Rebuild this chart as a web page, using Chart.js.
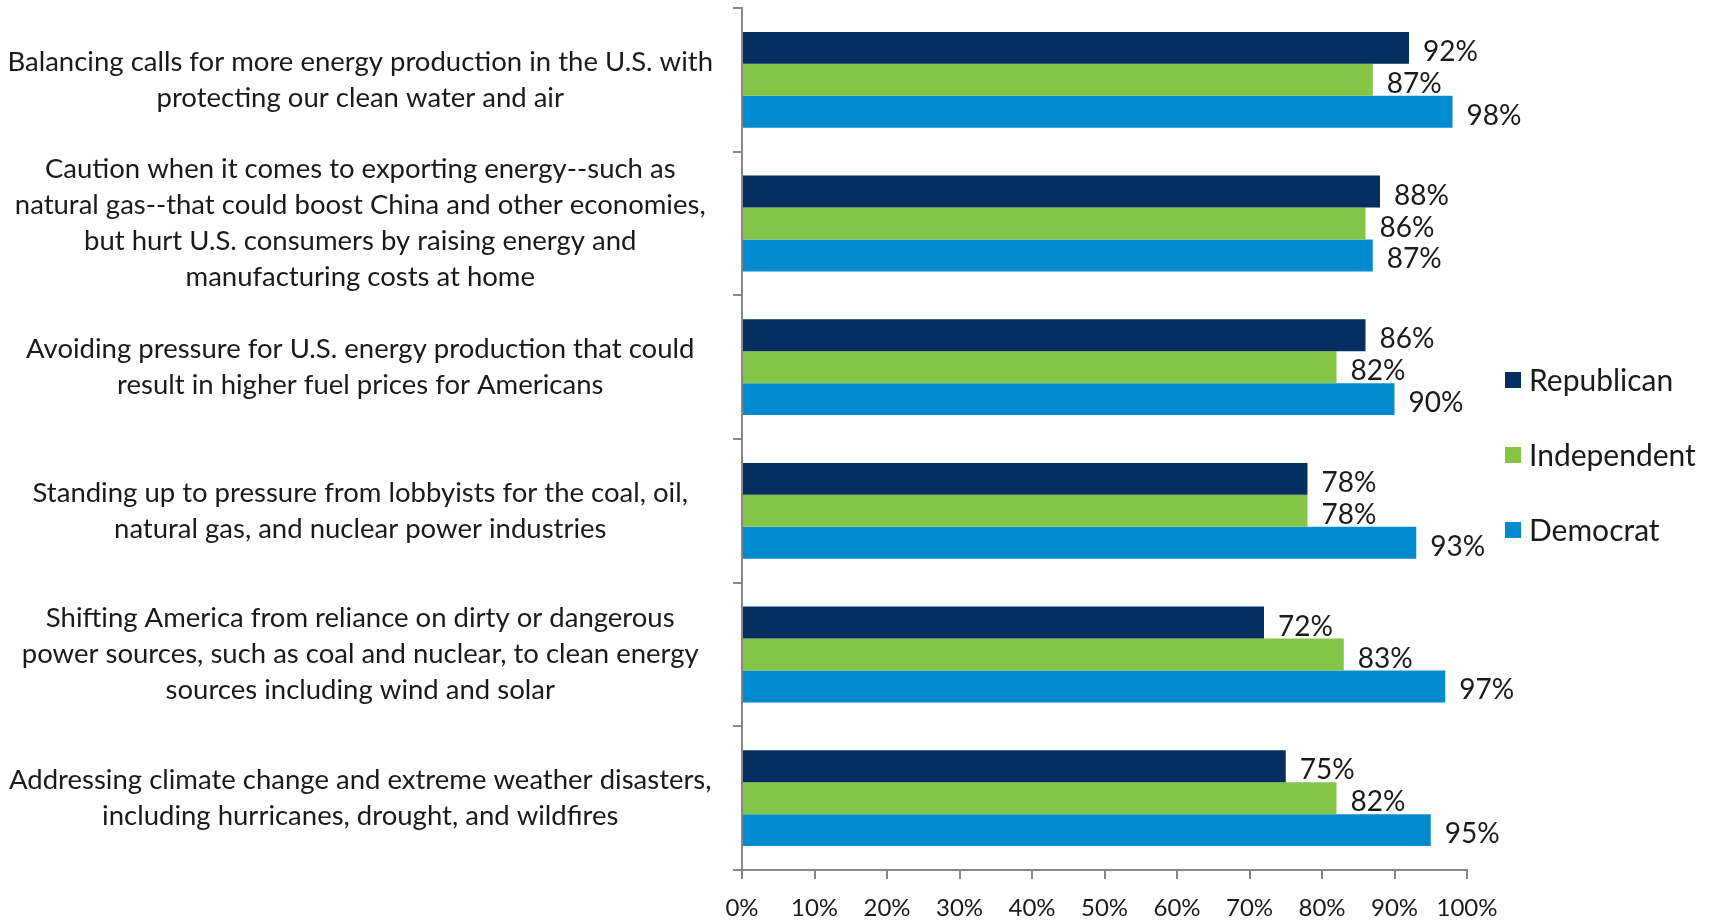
<!DOCTYPE html>
<html>
<head>
<meta charset="utf-8">
<script src="https://cdn.jsdelivr.net/npm/chart.js@4.4.1/dist/chart.umd.min.js"></script>
<style>
  html, body { margin: 0; padding: 0; background: #fff; }
  #wrap { width: 1709px; height: 922px; }
</style>
</head>
<body>
<div id="wrap"><canvas id="energy-priorities-chart"></canvas></div>
<script>
const categories = [
  ['Balancing calls for more energy production in the U.S. with', 'protecting our clean water and air'],
  ['Caution when it comes to exporting energy--such as', 'natural gas--that could boost China and other economies,', 'but hurt U.S. consumers by raising energy and', 'manufacturing costs at home'],
  ['Avoiding pressure for U.S. energy production that could', 'result in higher fuel prices for Americans'],
  ['Standing up to pressure from lobbyists for the coal, oil,', 'natural gas, and nuclear power industries'],
  ['Shifting America from reliance on dirty or dangerous', 'power sources, such as coal and nuclear, to clean energy', 'sources including wind and solar'],
  ['Addressing climate change and extreme weather disasters,', 'including hurricanes, drought, and wildfires']
];
const republican = [92, 88, 86, 78, 72, 75];
const independent = [87, 86, 82, 78, 83, 82];
const democrat = [98, 87, 90, 93, 97, 95];

const FONT = 'Lato';
const TEXT = '#1a1a1a';
const AXIS = '#878787';

// value labels just past the end of each bar
const barValueLabels = {
  id: 'barValueLabels',
  afterDatasetsDraw(chart) {
    const ctx = chart.ctx;
    ctx.save();
    ctx.font = '28px ' + FONT;
    ctx.fillStyle = TEXT;
    ctx.textAlign = 'left';
    ctx.textBaseline = 'middle';
    chart.data.datasets.forEach((ds, i) => {
      chart.getDatasetMeta(i).data.forEach((bar, j) => {
        ctx.fillText(ds.data[j] + '%', bar.x + 14, bar.y + 4);
      });
    });
    ctx.restore();
  }
};

// legend stacked to the right of the plot
const sideLegend = {
  id: 'sideLegend',
  afterDraw(chart) {
    const ctx = chart.ctx;
    const area = chart.chartArea;
    const x = area.right + 38;
    const midY = (area.top + area.bottom) / 2 + 16;
    ctx.save();
    ctx.font = '30px ' + FONT;
    ctx.textBaseline = 'middle';
    chart.data.datasets.forEach((ds, i) => {
      const y = midY + (i - 1) * 75;
      ctx.fillStyle = ds.backgroundColor;
      ctx.fillRect(x, y - 8, 16, 16);
      ctx.fillStyle = TEXT;
      ctx.fillText(ds.label, x + 24, y + 1);
    });
    ctx.restore();
  }
};

new Chart(document.getElementById('energy-priorities-chart').getContext('2d'), {
  type: 'bar',
  data: {
    labels: categories,
    datasets: [
      { label: 'Republican', data: republican, backgroundColor: '#022f5f' },
      { label: 'Independent', data: independent, backgroundColor: '#84c447' },
      { label: 'Democrat', data: democrat, backgroundColor: '#008bcf' }
    ]
  },
  options: {
    indexAxis: 'y',
    responsive: true,
    maintainAspectRatio: false,
    animation: false,
    layout: { padding: { top: 8, right: 242, bottom: 4, left: 0 } },
    datasets: {
      bar: { categoryPercentage: 0.667, barPercentage: 1.0 }
    },
    plugins: {
      legend: { display: false },
      tooltip: { enabled: false }
    },
    scales: {
      x: {
        min: 0,
        max: 100,
        afterFit(scale) {
          scale.height = 48;
        },
        ticks: {
          stepSize: 10,
          padding: 15,
          color: TEXT,
          font: { family: FONT, size: 24 },
          callback: v => v + '%'
        },
        grid: { drawOnChartArea: false, tickLength: 9, color: AXIS, lineWidth: 2 },
        border: { color: AXIS, width: 2 }
      },
      y: {
        offset: true,
        afterFit(scale) {
          scale.width = 742;
          scale.paddingTop = 0;
          scale.paddingBottom = 0;
        },
        ticks: {
          autoSkip: false,
          crossAlign: 'center',
          padding: 20,
          color: TEXT,
          font: { family: FONT, size: 27.5, lineHeight: 1.31 }
        },
        grid: { offset: true, drawOnChartArea: false, tickLength: 9, color: AXIS, lineWidth: 2 },
        border: { color: AXIS, width: 2 }
      }
    }
  },
  plugins: [barValueLabels, sideLegend]
});
</script>
</body>
</html>
